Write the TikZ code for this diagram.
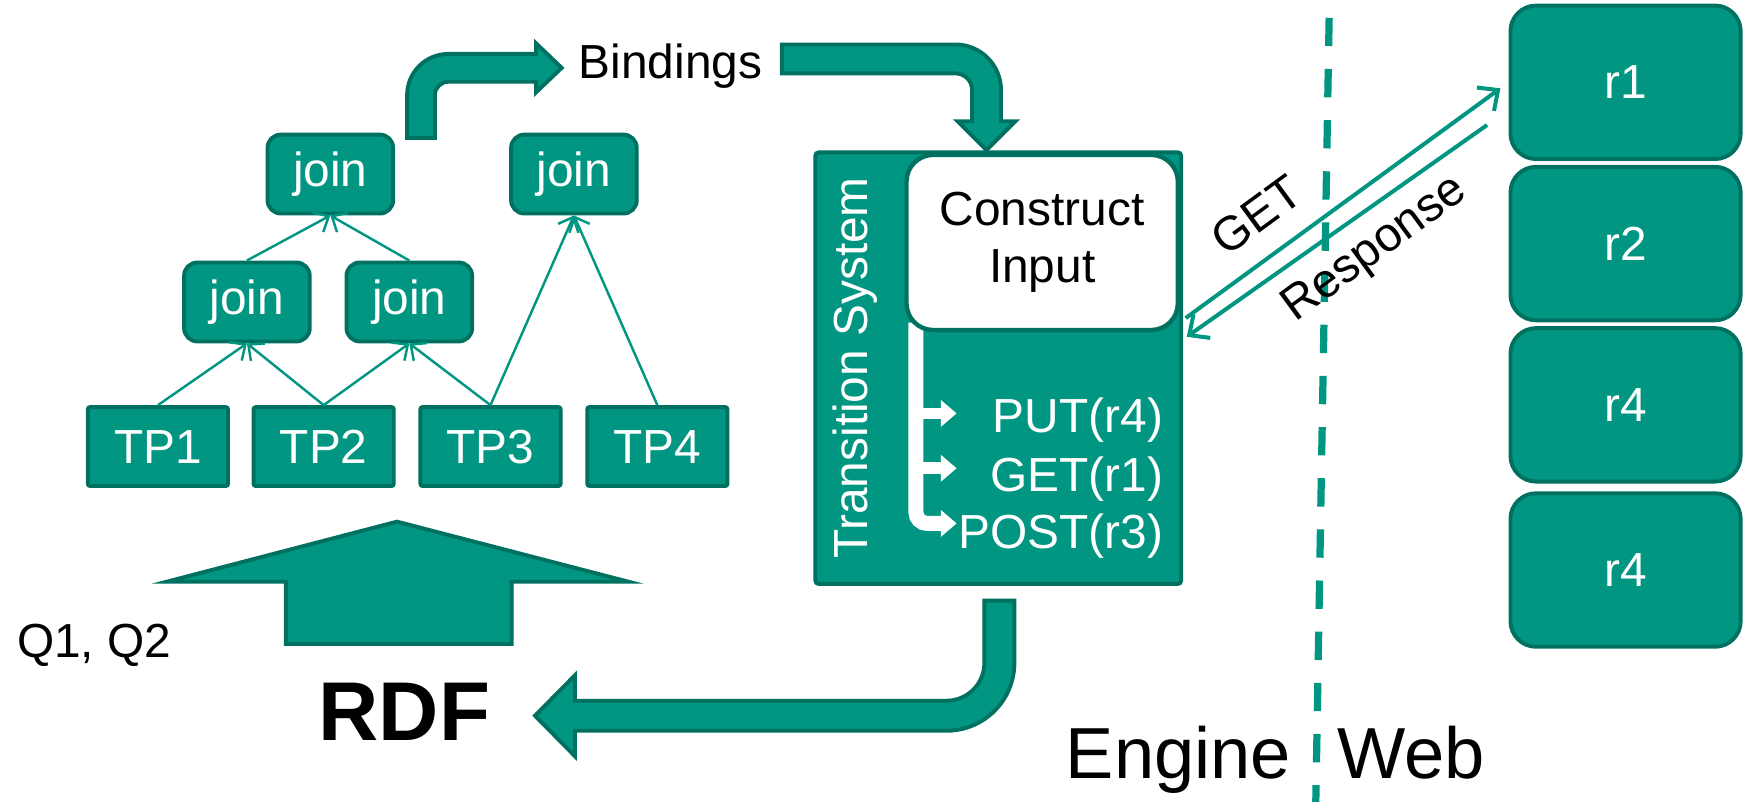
\documentclass[tikz,border=0pt]{standalone}
\usepackage{fontspec}
\setmainfont{Liberation Sans}
\usetikzlibrary{arrows.meta}
\definecolor{tealfill}{RGB}{0,150,130}
\definecolor{tealline}{RGB}{0,112,96}
\newcommand\fsz{\fontsize{21.5}{25.5}\selectfont}
\begin{document}
\begin{tikzpicture}[x=0.5pt,y=-0.5pt,
  box/.style={draw=tealline, fill=tealfill, line width=1.75pt, text=white, font=\fsz, inner sep=0pt},
  tpbox/.style={box, minimum width=63pt, minimum height=35.5pt, rounded corners=1pt},
  joinbox/.style={box, minimum width=56.5pt, minimum height=35.5pt, rounded corners=6pt},
  resbox/.style={box, minimum width=103.5pt, minimum height=69pt, rounded corners=11.5pt},
  treeedge/.style={draw=tealfill, line width=1.1pt, -{Straight Barb[length=5.5pt,width=10pt]}},
  blockarrow/.style={draw=tealline, fill=tealfill, line width=1.75pt, line join=miter},
  msg/.style={draw=tealfill, line width=1.8pt, -{Straight Barb[length=7pt,width=13pt]}},
  label/.style={inner sep=0pt, font=\fsz}]
\useasboundingbox (0,0) rectangle (1568,721);

% query plan: triple patterns and joins
\node[tpbox] (tp1) at (142,401.5) {TP1};
\node[tpbox] (tp2) at (291,401.5) {TP2};
\node[tpbox] (tp3) at (441,401.5) {TP3};
\node[tpbox] (tp4) at (591,401.5) {TP4};
\node[joinbox] (j1) at (297,156.5) {join};
\node[joinbox] (j2) at (516,156.5) {join};
\node[joinbox] (j3) at (222,271.5) {join};
\node[joinbox] (j4) at (368,271.5) {join};
\draw[treeedge] (tp1.north) -- (j3.south);
\draw[treeedge] (tp2.north) -- (j3.south);
\draw[treeedge] (tp2.north) -- (j4.south);
\draw[treeedge] (tp3.north) -- (j4.south);
\draw[treeedge] (tp3.north) -- (j2.south);
\draw[treeedge] (tp4.north) -- (j2.south);
\draw[treeedge] (j3.north) -- (j1.south);
\draw[treeedge] (j4.north) -- (j1.south);

% bent arrow up to the bindings
\path[blockarrow] (366,124) -- (366,85.5)
  .. controls (366,65.1) and (382.6,48.5) .. (403,48.5)
  -- (482,48.5) -- (482,39) -- (505,61) -- (482,83) -- (482,73.5) -- (403,73.5)
  .. controls (396.4,73.5) and (391,78.9) .. (391,85.5) -- (391,124) -- cycle;
\node[label, anchor=base west] (bind) at (520,71) {Bindings};

% bent arrow from the bindings down into the transition system
\path[blockarrow] (703,40) -- (859,40)
  .. controls (881.6,40) and (900,58.4) .. (900,81)
  -- (900,109) -- (913,109) -- (887,135) -- (861,109) -- (874,109) -- (874,81)
  .. controls (874,72.7) and (867.3,66) .. (859,66) -- (703,66) -- cycle;

% transition system
\node[box, minimum width=164.5pt, minimum height=194pt, rounded corners=1.5pt] (ts) at (897.5,331) {};
\node[label, rotate=90, text=white] (tslab) at (769,330.5) {Transition System};
\draw[white, line width=6.75pt, rounded corners=5pt] (823.5,290) -- (823.5,470.6) -- (847,470.6);
\draw[white, line width=5.25pt] (823.5,371.7) -- (847,371.7);
\draw[white, line width=5.25pt] (823.5,421) -- (847,421);
\fill[white] (846,359.7) -- (860,371.7) -- (846,383.7) -- cycle;
\fill[white] (846,409) -- (860,421) -- (846,433) -- cycle;
\fill[white] (846,458.6) -- (860,470.6) -- (846,482.6) -- cycle;
\node[draw=tealline, fill=white, line width=2pt, rounded corners=12pt,
      minimum width=122pt, minimum height=78.75pt, align=center,
      font=\fsz, inner sep=0pt] (ci) at (937,218) {Construct\\Input};
\node[label, text=white, anchor=base east] (put) at (1046,389) {PUT(r4)};
\node[label, text=white, anchor=base east] (get) at (1046,442) {GET(r1)};
\node[label, text=white, anchor=base east] (post) at (1046,493) {POST(r3)};

% bent arrow from the transition system back to the RDF
\path[blockarrow] (885,540) -- (912,540) -- (912,596)
  .. controls (912,629.7) and (884.7,657) .. (851,657)
  -- (517,657) -- (517,680) -- (481,643.5) -- (517,607) -- (517,630) -- (851,630)
  .. controls (869.8,630) and (885,614.8) .. (885,596) -- cycle;

% RDF feeding the query plan
\path[blockarrow] (257,579) -- (257,523) -- (150,523) -- (357,469)
  -- (565,523) -- (460,523) -- (460,579) -- cycle;
\node[label, anchor=base west, font=\fontsize{37.5}{42}\selectfont\bfseries] (rdf) at (286,665.5) {RDF};
\node[label, anchor=base west] (q) at (15,591) {Q1, Q2};

% border between engine and web
\coordinate (bordertop) at (1195,16);
\coordinate (borderbot) at (1183,721);
\draw[tealfill, line width=3.25pt, dash pattern=on 12.75pt off 10.25pt] (bordertop) -- (borderbot);
\node[label, anchor=base west, font=\fontsize{32.5}{36}\selectfont] (engine) at (958,700) {Engine};
\node[label, anchor=base west, font=\fontsize{32.5}{36}\selectfont] (web) at (1202,700) {Web};

% web resources
\node[resbox] (r1) at (1461.5,74) {r1};
\node[resbox] (r2) at (1461.5,219) {r2};
\node[resbox] (r3) at (1461.5,364) {r4};
\node[resbox] (r4) at (1461.5,512.5) {r4};

% request and response
\coordinate (getS) at (1066,286);
\coordinate (getE) at (1349,79.4);
\coordinate (respS) at (1337,112.4);
\coordinate (respE) at (1067,302.8);
\draw[msg] (getS) -- (getE);
\draw[msg] (respS) -- (respE);
\node[label, rotate=36.2] (getlab) at (1130,193.3) {GET};
\node[label, rotate=36.2] (resplab) at (1236.5,224.8) {Response};
\end{tikzpicture}
\end{document}
